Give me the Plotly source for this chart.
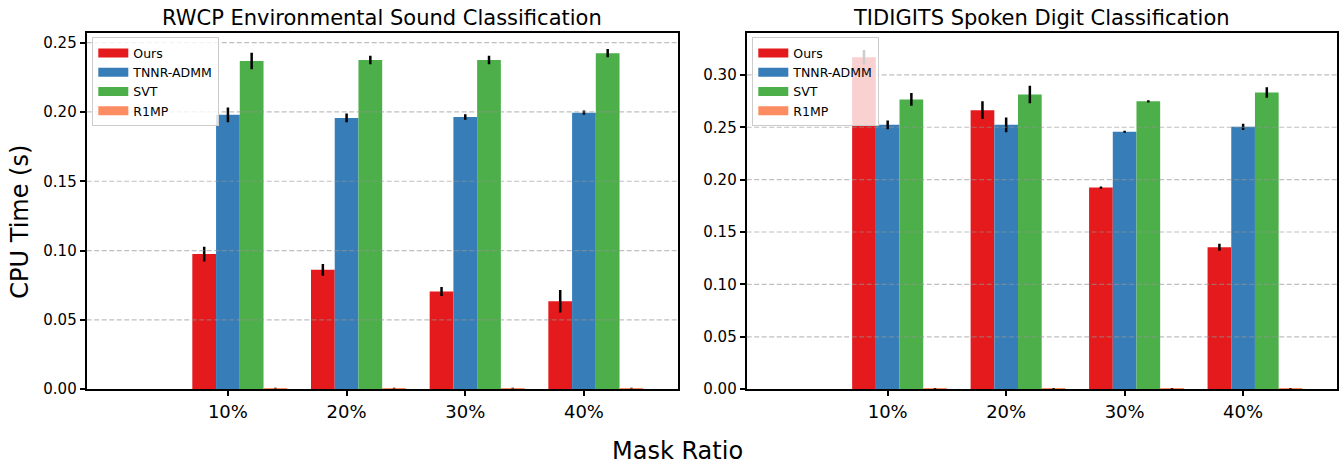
import plotly.graph_objects as go

# ---- data -------------------------------------------------------------
mask_ratios = ["10%", "20%", "30%", "40%"]
methods = ["Ours", "TNNR-ADMM", "SVT", "R1MP"]
colors = ["#e41a1c", "#377eb8", "#4daf4a", "#fc8d62"]

# RWCP environmental sound classification: mean CPU time (s) and std
rwcp_mean = {
    "Ours":      [0.0975, 0.0861, 0.0705, 0.0635],
    "TNNR-ADMM": [0.1979, 0.1957, 0.1964, 0.1995],
    "SVT":       [0.2368, 0.2375, 0.2375, 0.2424],
    "R1MP":      [0.0008, 0.0008, 0.0008, 0.0008],
}
rwcp_std = {
    "Ours":      [0.0053, 0.0042, 0.0032, 0.0081],
    "TNNR-ADMM": [0.0053, 0.0032, 0.0020, 0.0015],
    "SVT":       [0.0060, 0.0030, 0.0030, 0.0030],
    "R1MP":      [0.0003, 0.0003, 0.0003, 0.0003],
}

# TIDIGITS spoken digit classification: mean CPU time (s) and std
tidigits_mean = {
    "Ours":      [0.3168, 0.2663, 0.1924, 0.1354],
    "TNNR-ADMM": [0.2523, 0.2523, 0.2457, 0.2504],
    "SVT":       [0.2766, 0.2813, 0.2747, 0.2831],
    "R1MP":      [0.0008, 0.0008, 0.0008, 0.0008],
}
tidigits_std = {
    "Ours":      [0.0070, 0.0084, 0.0010, 0.0033],
    "TNNR-ADMM": [0.0042, 0.0070, 0.0010, 0.0030],
    "SVT":       [0.0060, 0.0084, 0.0010, 0.0050],
    "R1MP":      [0.0003, 0.0003, 0.0003, 0.0003],
}

panel_titles = ["RWCP Environmental Sound Classification",
                "TIDIGITS Spoken Digit Classification"]
rwcp_yticks = [0.00, 0.05, 0.10, 0.15, 0.20, 0.25]
tidigits_yticks = [0.00, 0.05, 0.10, 0.15, 0.20, 0.25, 0.30]

# ---- layout constants ---------------------------------------------------
W, H = 1343, 474
FONT = "DejaVu Sans"
BAR_W = 0.2
offsets = [-0.3, -0.1, 0.1, 0.3]          # left edges of the four bars per group
x_pos = list(range(len(mask_ratios)))

dom_left = [86.7 / W, 677.7 / W]
dom_right = [746.7 / W, 1336.7 / W]
dom_y = [(H - 396.7) / H, (H - 33.6) / H]

fig = go.Figure()

panels = [
    ("x", "y", "legend", rwcp_mean, rwcp_std),
    ("x2", "y2", "legend2", tidigits_mean, tidigits_std),
]

for xa, ya, leg, means, stds in panels:
    for m, c, off in zip(methods, colors, offsets):
        fig.add_trace(go.Bar(
            x=x_pos, y=means[m], width=BAR_W, offset=off,
            marker=dict(color=c, line=dict(width=0)),
            error_y=dict(type="data", array=stds[m], color="black",
                         thickness=2.5, width=0),
            xaxis=xa, yaxis=ya, showlegend=False, name=m,
        ))
    # legend entries drawn as wide flat swatches
    for m, c in zip(methods, colors):
        fig.add_trace(go.Scatter(
            x=[None], y=[None], mode="lines", name=m,
            line=dict(color=c, width=9),
            xaxis=xa, yaxis=ya, legend=leg, showlegend=True,
        ))

axis_common = dict(
    showline=True, linecolor="black", linewidth=2, mirror=True,
    ticks="outside", ticklen=5, tickwidth=1.8, tickcolor="black",
    zeroline=False, showgrid=False,
)

legend_common = dict(
    xanchor="left", yanchor="top", y=(H - 38) / H,
    bgcolor="rgba(255,255,255,0.8)", bordercolor="#cccccc", borderwidth=1,
    font=dict(size=12.5, family=FONT),
)

fig.update_layout(
    width=W, height=H,
    margin=dict(l=0, r=0, t=0, b=0),
    paper_bgcolor="white", plot_bgcolor="white",
    barmode="overlay",
    font=dict(family=FONT, color="black"),
    xaxis=dict(domain=dom_left, range=[-1.19, 3.79], tickvals=x_pos,
               ticktext=mask_ratios, tickfont=dict(size=18), anchor="y",
               **axis_common),
    xaxis2=dict(domain=dom_right, range=[-1.19, 3.79], tickvals=x_pos,
                ticktext=mask_ratios, tickfont=dict(size=18), anchor="y2",
                **axis_common),
    yaxis=dict(domain=dom_y, range=[0, 0.257], tickvals=rwcp_yticks,
               tickformat=".2f", tickfont=dict(size=15), anchor="x",
               **axis_common),
    yaxis2=dict(domain=dom_y, range=[0, 0.34], tickvals=tidigits_yticks,
                tickformat=".2f", tickfont=dict(size=15), anchor="x2",
                **axis_common),
    legend=dict(x=92.3 / W, **legend_common),
    legend2=dict(x=752.3 / W, **legend_common),
)

# dashed horizontal grid drawn over the bars
for ya, ticks in (("y", rwcp_yticks), ("y2", tidigits_yticks)):
    xref = ("x" if ya == "y" else "x2") + " domain"
    for t in ticks[1:]:
        fig.add_shape(type="line", xref=xref, yref=ya, x0=0, x1=1, y0=t, y1=t,
                      line=dict(color="rgba(150,150,150,0.6)", width=1.2,
                                dash="5px,2.5px"),
                      layer="above")

# panel titles and shared axis labels
for dom, title in ((dom_left, panel_titles[0]), (dom_right, panel_titles[1])):
    fig.add_annotation(text=title, x=(dom[0] + dom[1]) / 2, y=(H - 18) / H,
                       xref="paper", yref="paper", showarrow=False,
                       xanchor="center", yanchor="middle",
                       font=dict(size=21, family=FONT, color="black"))

fig.add_annotation(text="CPU Time (s)", x=20 / W, y=(H - 226) / H,
                   xref="paper", yref="paper", showarrow=False, textangle=-90,
                   xanchor="center", yanchor="middle",
                   font=dict(size=24, family=FONT, color="black"))
fig.add_annotation(text="Mask Ratio", x=677.5 / W, y=(H - 460) / H,
                   xref="paper", yref="paper", showarrow=False,
                   xanchor="center", yanchor="middle",
                   font=dict(size=24, family=FONT, color="black"))

fig.write_html("out.html")
